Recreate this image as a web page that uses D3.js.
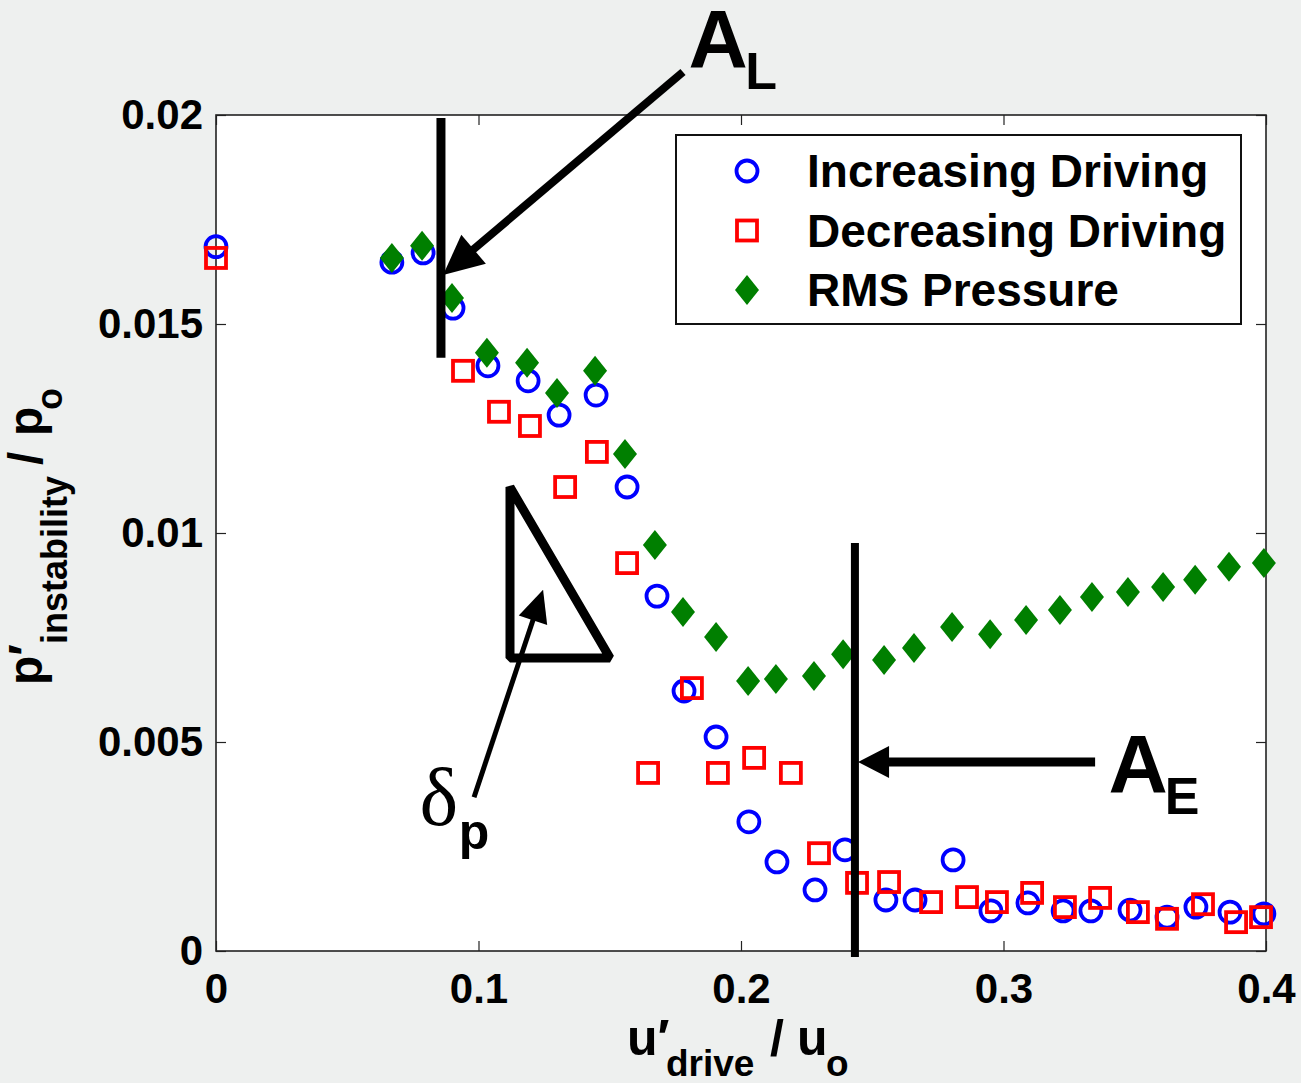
<!DOCTYPE html>
<meta charset="utf-8">
<html>
<head>
<style>
  body { margin: 0; background: #eef0ef; }
  svg { display: block; }
  text { fill: #000; }
</style>
</head>
<body>
<svg width="1301" height="1083"></svg>
</body>
</html>

<script src="https://d3js.org/d3.v7.min.js"></script>
<script>

// Increasing driving (blue circles)
var incX = [0, 0.067, 0.0789, 0.0903, 0.1036, 0.1189, 0.1307, 0.1448, 0.1566, 0.168, 0.1783, 0.1905, 0.203, 0.2137, 0.2282, 0.2396,
            0.2552, 0.2663, 0.2808, 0.2952, 0.3093, 0.3227, 0.3333, 0.3482, 0.3623, 0.3733, 0.3863, 0.3992];
var incY = [0.01685, 0.01648, 0.0167, 0.01538, 0.0140, 0.01364, 0.01282, 0.0133, 0.0111, 0.00849, 0.00622, 0.00512, 0.00309, 0.00213, 0.00146, 0.00242,
            0.00122, 0.00122, 0.00218, 0.00096, 0.00115, 0.00096, 0.00096, 0.00098, 0.00081, 0.00105, 0.00093, 0.00089];

// Decreasing driving (red squares)
var decX = [0, 0.0941, 0.1078, 0.1196, 0.133, 0.1451, 0.1566, 0.1646, 0.1813, 0.1912, 0.205, 0.219, 0.2297, 0.2442, 0.2564,
            0.2724, 0.2861, 0.2975, 0.3109, 0.3234, 0.3368, 0.3512, 0.3623, 0.376, 0.3886, 0.3981];
var decY = [0.01658, 0.01388, 0.0129, 0.01256, 0.0111, 0.01194, 0.00928, 0.00426, 0.00629, 0.00426, 0.00462, 0.00426, 0.00234, 0.00163, 0.00165,
            0.00117, 0.00129, 0.00117, 0.00139, 0.00105, 0.00127, 0.00093, 0.00077, 0.00112, 0.00069, 0.00081];

// RMS pressure (green diamonds)
var rmsX = [0.067, 0.0785, 0.0899, 0.1032, 0.1185, 0.1299, 0.1444, 0.1558, 0.1672, 0.1779, 0.1905, 0.2027, 0.2133, 0.2278, 0.2389,
            0.2545, 0.2659, 0.2804, 0.2949, 0.3086, 0.3215, 0.3337, 0.3474, 0.3608, 0.373, 0.3859, 0.3992];
var rmsY = [0.01658, 0.01687, 0.01562, 0.01431, 0.01407, 0.01335, 0.01388, 0.01189, 0.00971, 0.00811, 0.00751, 0.00646, 0.00651, 0.00658, 0.0071,
            0.00696, 0.00725, 0.00775, 0.00758, 0.00792, 0.00816, 0.00847, 0.00859, 0.00871, 0.00888, 0.00919, 0.00928];

var xTicks = [0, 0.1, 0.2, 0.3, 0.4];
var xTickLabels = ["0", "0.1", "0.2", "0.3", "0.4"];
var yTicks = [0, 0.005, 0.01, 0.015, 0.02];
var yTickLabels = ["0", "0.005", "0.01", "0.015", "0.02"];

var legendNames = ["Increasing Driving", "Decreasing Driving", "RMS Pressure"];
var legendShapes = ["circle", "square", "diamond"];
var colors = { circle: "#0000ff", square: "#ff0000", diamond: "#007f00" };

var sans = "Arial, 'Liberation Sans', sans-serif";
var serif = "'Liberation Serif', 'Times New Roman', serif";

var svg = d3.select("svg");
var pLeft = 216, pRight = 1266, pTop = 115, pBottom = 951;

var x = d3.scaleLinear().domain([0, 0.4]).range([pLeft, pRight]);
var y = d3.scaleLinear().domain([0, 0.02]).range([pBottom, pTop]);

// plot box
svg.append("rect")
    .attr("x", pLeft).attr("y", pTop)
    .attr("width", pRight - pLeft).attr("height", pBottom - pTop)
    .attr("fill", "#fff");

function fmt(vals, labels) {
  return function(d) { return labels[vals.indexOf(d)]; };
}

var gx = svg.append("g")
    .attr("transform", "translate(0," + pBottom + ")")
    .call(d3.axisBottom(x).tickValues(xTicks).tickFormat(fmt(xTicks, xTickLabels))
      .tickSizeInner(-10).tickSizeOuter(0).tickPadding(22));
var gy = svg.append("g")
    .attr("transform", "translate(" + pLeft + ",0)")
    .call(d3.axisLeft(y).tickValues(yTicks).tickFormat(fmt(yTicks, yTickLabels))
      .tickSizeInner(-10).tickSizeOuter(0).tickPadding(13));
var gx2 = svg.append("g")
    .attr("transform", "translate(0," + pTop + ")")
    .call(d3.axisTop(x).tickValues(xTicks).tickFormat("").tickSizeInner(-10).tickSizeOuter(0));
var gy2 = svg.append("g")
    .attr("transform", "translate(" + pRight + ",0)")
    .call(d3.axisRight(y).tickValues(yTicks).tickFormat("").tickSizeInner(-10).tickSizeOuter(0));

[gx, gy, gx2, gy2].forEach(function(g) {
  g.select(".domain").remove();
  g.selectAll(".tick line").attr("stroke", "#222").attr("stroke-width", 1.2);
  g.selectAll("text")
    .attr("font-family", sans)
    .attr("font-weight", "bold")
    .attr("font-size", 42)
    .attr("fill", "#000");
});

svg.append("rect")
    .attr("x", pLeft).attr("y", pTop)
    .attr("width", pRight - pLeft).attr("height", pBottom - pTop)
    .attr("fill", "none")
    .attr("stroke", "#222")
    .attr("stroke-width", 1.6);

// markers
function drawMarker(sel, shape) {
  if (shape == "circle") {
    sel.append("circle").attr("r", 10.5)
      .attr("fill", "none").attr("stroke", colors.circle).attr("stroke-width", 3.8);
  } else if (shape == "square") {
    sel.append("rect").attr("x", -10).attr("y", -10).attr("width", 20).attr("height", 20)
      .attr("fill", "none").attr("stroke", colors.square).attr("stroke-width", 3.8);
  } else {
    sel.append("path").attr("d", "M0,-15L12,0L0,15L-12,0Z")
      .attr("fill", colors.diamond).attr("stroke", "none");
  }
}

function series(xs, ys, shape) {
  var pts = xs.map(function(d, i) { return { x: d, y: ys[i] }; });
  svg.append("g").selectAll("g")
    .data(pts)
    .enter().append("g")
      .attr("transform", function(d) { return "translate(" + x(d.x) + "," + y(d.y) + ")"; })
      .each(function() { drawMarker(d3.select(this), shape); });
}

series(incX, incY, "circle");
series(decX, decY, "square");
series(rmsX, rmsY, "diamond");

// annotations (in data units)
var ann = svg.append("g");

function vline(xv, y0, y1, w) {
  ann.append("line")
    .attr("x1", x(xv)).attr("x2", x(xv))
    .attr("y1", y(y0)).attr("y2", y(y1))
    .attr("stroke", "#000").attr("stroke-width", w);
}

function arrow(x0, y0, x1, y1, w, hl, hw) {
  var ax = x(x0), ay = y(y0), bx = x(x1), by = y(y1);
  var dx = bx - ax, dy = by - ay, len = Math.sqrt(dx * dx + dy * dy);
  var ux = dx / len, uy = dy / len;
  var cx = bx - ux * hl, cy = by - uy * hl;
  ann.append("line")
    .attr("x1", ax).attr("y1", ay).attr("x2", cx + ux * 2).attr("y2", cy + uy * 2)
    .attr("stroke", "#000").attr("stroke-width", w);
  ann.append("path")
    .attr("d", "M" + bx + "," + by +
      "L" + (cx - uy * hw / 2) + "," + (cy + ux * hw / 2) +
      "L" + (cx + uy * hw / 2) + "," + (cy - ux * hw / 2) + "Z")
    .attr("fill", "#000");
}

vline(0.0857, 0.01993, 0.01419, 9);
arrow(0.1779, 0.02103, 0.0865, 0.01617, 8, 40, 38);

vline(0.2434, 0.00976, -0.000144, 8);
arrow(0.3349, 0.00452, 0.2446, 0.00452, 9, 31, 32);

// triangle
var tri = [[0.112, 0.0111], [0.112, 0.00701], [0.1501, 0.00701]];
ann.append("path")
  .attr("d", d3.line().x(function(d) { return x(d[0]); }).y(function(d) { return y(d[1]); })(tri) + "Z")
  .attr("fill", "none").attr("stroke", "#000").attr("stroke-width", 9)
  .attr("stroke-linejoin", "bevel");

arrow(0.0983, 0.00368, 0.1246, 0.00864, 5, 32, 30);

function label(xv, yv, str, size, family, weight) {
  ann.append("text")
    .attr("x", x(xv)).attr("y", y(yv))
    .style("font-size", size + "px")
    .style("font-family", family || sans)
    .style("font-weight", weight || "bold")
    .text(str);
}

label(0.1800, 0.02115, "A", 82);
label(0.2016, 0.02062, "L", 52);
label(0.3400, 0.0038, "A", 82);
label(0.3614, 0.00328, "E", 52);
label(0.0775, 0.00301, "\u03b4", 82, serif, "normal");
label(0.0925, 0.00244, "p", 50);

// axis titles
var xt = svg.append("g");
function part(g, px, py, str, size) {
  g.append("text").attr("x", px).attr("y", py)
    .style("font-size", size + "px").style("font-family", sans).style("font-weight", "bold")
    .text(str);
}
part(xt, 627, 1055, "u\u2032", 50);
part(xt, 666, 1076, "drive", 37);
part(xt, 770, 1055, "/", 50);
part(xt, 797, 1055, "u", 50);
part(xt, 826, 1076, "o", 37);

var yt = svg.append("g").attr("transform", "rotate(-90)");
// rotated frame: x = -screenY, y = screenX
part(yt, -685, 42, "p\u2032", 48);
part(yt, -644, 67, "instability", 36);
part(yt, -465, 42, "/", 48);
part(yt, -436, 42, "p", 48);
part(yt, -410, 62, "o", 36);

// legend
var lg = svg.append("g");
lg.append("rect")
  .attr("x", 676).attr("y", 135).attr("width", 565).attr("height", 189)
  .attr("fill", "#fff").attr("stroke", "#111").attr("stroke-width", 2);

legendNames.forEach(function(name, i) {
  var row = lg.append("g").attr("transform", "translate(747," + (171 + i * 59.5) + ")");
  drawMarker(row, legendShapes[i]);
  row.append("text")
    .attr("x", 60).attr("dy", "0.35em")
    .style("font-size", "46px").style("font-family", sans).style("font-weight", "bold")
    .text(name);
});

</script>
